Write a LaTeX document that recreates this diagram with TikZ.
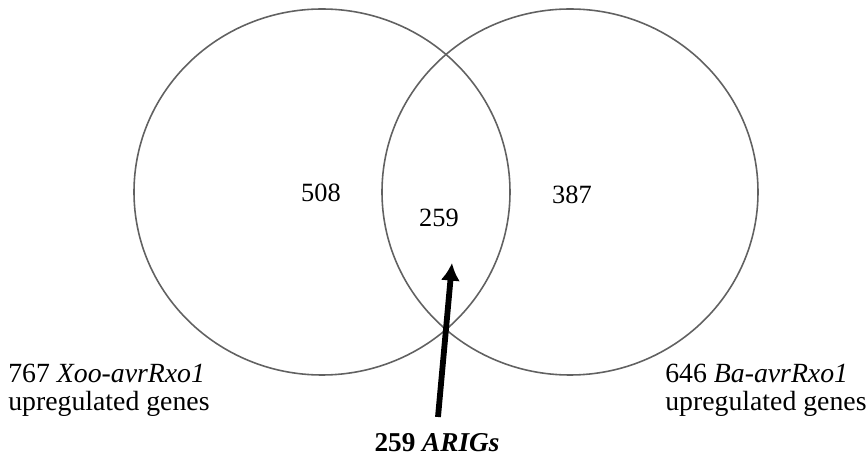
\documentclass[tikz,border=0pt]{standalone}
\usepackage{fontspec}
\setmainfont{Liberation Serif}
\usetikzlibrary{arrows.meta}
\begin{document}
\begin{tikzpicture}[x=0.02cm,y=-0.02cm,
  setring/.style={draw=black!62,line width=0.9pt},
  countlbl/.style={inner sep=0pt,font=\fontsize{15}{18}\selectfont},
  setlbl/.style={inner sep=0pt,anchor=base west,font=\fontsize{15.8}{18}\selectfont},
  bigarrow/.style={line width=3.3pt,-{Latex[length=10pt,width=11pt]}}]
\useasboundingbox (0,0) rectangle (867,459);
\draw[setring] (322,192) ellipse [x radius=188, y radius=183];
\draw[setring] (570,192) ellipse [x radius=188, y radius=183];
\node[countlbl] (a) at (321,193) {508};
\node[countlbl] (b) at (572,195) {387};
\node[countlbl] (ab) at (439,218) {259};
\node[setlbl] (l1) at (8,383) {767 \textit{Xoo-avrRxo1}};
\node[setlbl] (l2) at (8,411) {upregulated genes};
\node[setlbl] (r1) at (665,383) {646 \textit{Ba-avrRxo1}};
\node[setlbl] (r2) at (665,411) {upregulated genes};
\node[inner sep=0pt,anchor=base,font=\fontsize{15.5}{18}\selectfont\bfseries] (arig) at (437,452) {259 \textit{ARIGs}};
\coordinate (tail) at (438,417);
\coordinate (tip) at (452,263);
\draw[bigarrow] (tail) -- (tip);
\end{tikzpicture}
\end{document}
